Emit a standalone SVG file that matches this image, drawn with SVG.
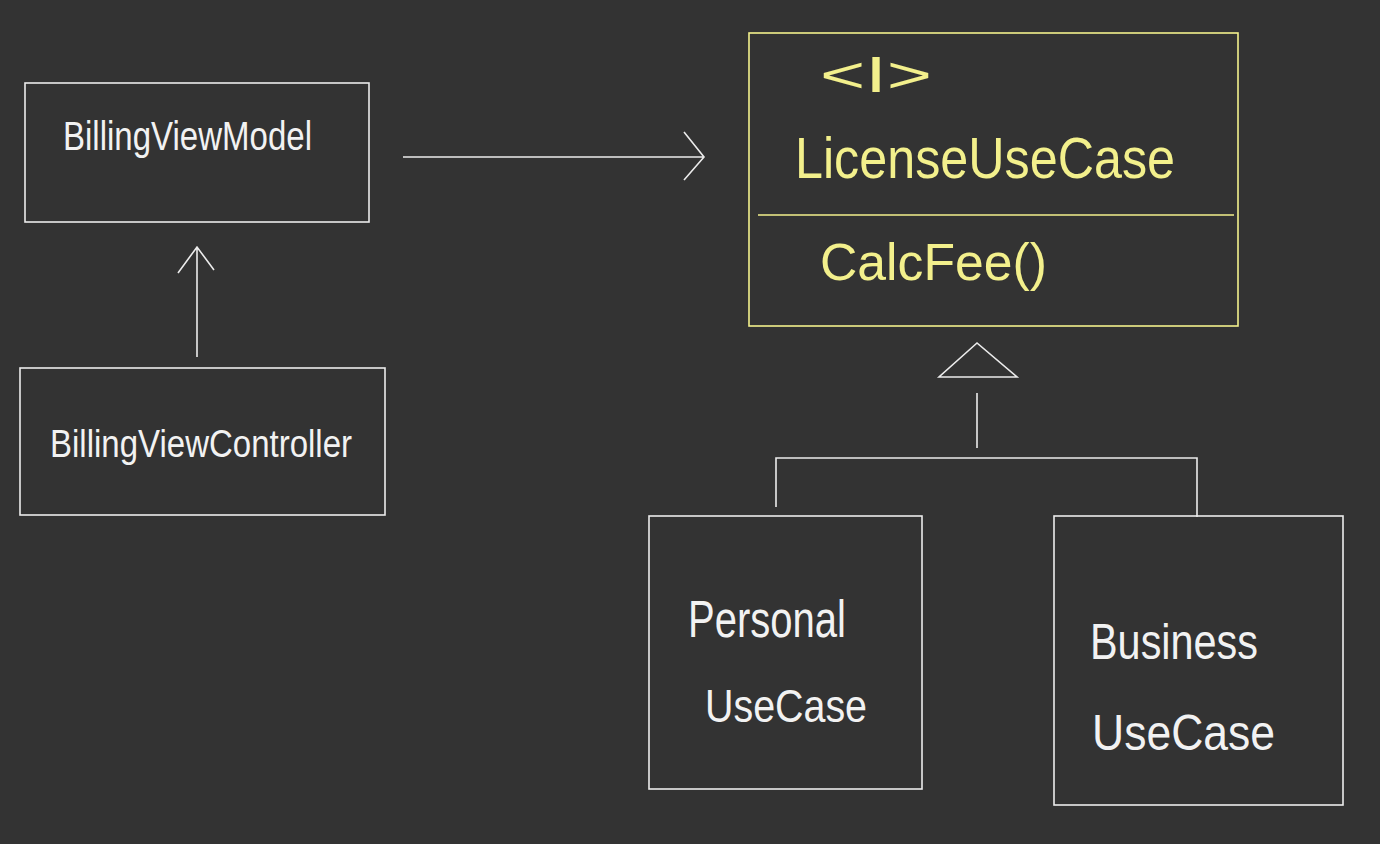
<svg xmlns="http://www.w3.org/2000/svg" width="1380" height="844" viewBox="0 0 1380 844">
<style>
.w{fill:none;stroke:#ececec;stroke-width:1.6}
.y{fill:none;stroke:#f3f08c;stroke-width:1.6}
.tw{fill:#f2f2f2;font-family:"Liberation Sans",Arial,sans-serif}
.ty{fill:#f3f08c;font-family:"Liberation Sans",Arial,sans-serif}
</style>
<rect width="1380" height="844" fill="#333333"/>
<g id="connectors">
<path class="w" d="M403 157 H704 M684 132 L704 157 L684 180"/>
<path class="w" d="M197 357 V247 M178 273 L197 247 L214 270"/>
<path class="w" d="M977 343 L939 377 H1017 Z"/>
<path class="w" d="M977 393 V448"/>
<path class="w" d="M776 507 V458 H1197 V517"/>
</g>
<g id="billing-view-model">
<rect class="w" x="25" y="83" width="344" height="139"/>
<text class="tw" x="63" y="150" font-size="40" textLength="249" lengthAdjust="spacingAndGlyphs">BillingViewModel</text>
</g>
<g id="billing-view-controller">
<rect class="w" x="20" y="368" width="365" height="147"/>
<text class="tw" x="50" y="457" font-size="38" textLength="302" lengthAdjust="spacingAndGlyphs">BillingViewController</text>
</g>
<g id="license-use-case">
<rect class="y" x="749" y="33" width="489" height="293"/>
<line class="y" x1="758" y1="215" x2="1234" y2="215"/>
<text class="ty" x="820" y="92" font-size="50" textLength="112" lengthAdjust="spacingAndGlyphs">&lt;I&gt;</text>
<text class="ty" x="795" y="178" font-size="58" textLength="380" lengthAdjust="spacingAndGlyphs">LicenseUseCase</text>
<text class="ty" x="820" y="280" font-size="52" textLength="227" lengthAdjust="spacingAndGlyphs">CalcFee()</text>
</g>
<g id="personal-use-case">
<rect class="w" x="649" y="516" width="273" height="273"/>
<text class="tw" x="688" y="637" font-size="52" textLength="158" lengthAdjust="spacingAndGlyphs">Personal</text>
<text class="tw" x="705" y="722" font-size="46" textLength="162" lengthAdjust="spacingAndGlyphs">UseCase</text>
</g>
<g id="business-use-case">
<rect class="w" x="1054" y="516" width="289" height="289"/>
<text class="tw" x="1090" y="659" font-size="50" textLength="168" lengthAdjust="spacingAndGlyphs">Business</text>
<text class="tw" x="1092" y="750" font-size="50" textLength="183" lengthAdjust="spacingAndGlyphs">UseCase</text>
</g>
</svg>
